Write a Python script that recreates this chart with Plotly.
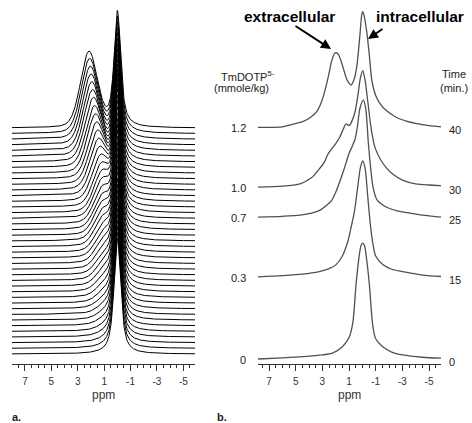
import numpy as np
import plotly.graph_objects as go

W, H = 472, 423
AXIS_PX = 364  # pixel row of the ppm axes

# ---------------- data ----------------
# panel a: one spectrum per minute, 0..40 min
minutes_a = list(range(0, 41))
intra_height_a = 20.5
intra_ppm_a = 0.0
extra_height_a = [0.0, 0.1, 0.2, 0.35, 0.5, 0.7, 0.9, 1.1, 1.3, 1.5, 1.8,
                  2.1, 2.4, 2.7, 3.0, 3.3, 3.6, 3.9, 4.2, 4.5, 4.8,
                  5.1, 5.4, 5.8, 6.2, 6.6, 7.0, 7.5, 8.0, 8.5, 9.0,
                  9.5, 10.0, 10.5, 11.0, 11.4, 11.8, 12.2, 12.6, 13.0, 13.3]
extra_ppm_a = [0.85, 0.86, 0.87, 0.88, 0.89, 0.90, 0.91, 0.92, 0.93, 0.94, 0.95,
               0.96, 0.97, 0.98, 0.99, 1.00, 1.02, 1.04, 1.06, 1.08, 1.10,
               1.11, 1.12, 1.13, 1.14, 1.15, 1.20, 1.27, 1.35, 1.43, 1.50,
               1.58, 1.66, 1.74, 1.81, 1.88, 1.94, 2.00, 2.05, 2.10, 2.15]

# panel b: selected spectra
conc_b = ["0", "0.3", "0.7", "1.0", "1.2"]
time_b = ["0", "15", "25", "30", "40"]
stack_b = [0, 14.2, 24.5, 29.7, 40]

ppm_b0 = [7.83, 6.0, 4.5, 3.0, 2.2, 1.5, 1.0, 0.72, 0.47, 0.25, 0.1, -0.03, -0.16, -0.3,
          -0.52, -0.78, -1.0, -1.53, -2.2, -3.03, -4.5, -5.9]
int_b0 = [0.0, 0.2, 0.4, 0.7, 1.05, 2.1, 3.7, 6.2, 13.0, 17.6, 19.6, 20.0, 19.6, 17.6,
          13.0, 5.8, 3.5, 2.1, 1.2, 0.7, 0.3, 0.15]

ppm_b15 = [7.83, 6.0, 4.5, 3.23, 2.5, 1.97, 1.5, 1.1, 0.85, 0.6, 0.35, 0.15, -0.03, -0.2,
           -0.4, -0.6, -0.8, -1.0, -1.53, -2.2, -3.03, -4.5, -5.9]
int_b15 = [0.0, 0.2, 0.45, 0.9, 1.4, 2.1, 3.6, 6.0, 8.5, 11.2, 15.5, 18.8, 20.0, 18.8,
           14.0, 9.0, 5.6, 3.6, 2.1, 1.3, 0.9, 0.3, 0.05]

ppm_b25 = [7.83, 6.0, 4.67, 3.8, 3.17, 2.7, 2.3, 2.0, 1.67, 1.3, 1.0, 0.75, 0.55, 0.38,
           0.18, -0.07, -0.25, -0.45, -0.62, -0.8, -1.1, -1.83, -2.6, -3.58, -4.7, -5.9]
int_b25 = [0.0, 0.15, 0.35, 0.7, 1.2, 2.0, 2.9, 4.3, 6.3, 8.8, 11.0, 12.3, 13.5, 15.5,
           18.8, 20.2, 18.8, 12.8, 8.5, 5.2, 3.0, 1.7, 1.1, 0.7, 0.3, 0.0]

ppm_b30 = [7.83, 6.0, 4.67, 4.17, 3.72, 3.17, 2.85, 2.6, 2.3, 2.0, 1.7, 1.45, 1.22, 1.0,
           0.8, 0.55, 0.35, 0.15, -0.03, -0.2, -0.4, -0.68, -0.95, -1.35, -1.8, -2.3,
           -3.0, -4.0, -5.0, -5.9]
int_b30 = [0.0, 0.15, 0.55, 1.1, 1.8, 3.3, 4.3, 5.6, 6.6, 7.5, 8.6, 9.9, 10.9, 10.6,
           11.3, 13.0, 15.6, 18.8, 20.1, 18.5, 14.9, 9.8, 6.8, 4.8, 3.3, 2.2,
           1.2, 0.55, 0.35, 0.25]

ppm_b40 = [7.83, 6.0, 5.48, 4.47, 3.9, 3.4, 3.1, 2.85, 2.55, 2.3, 2.1, 1.97, 1.8, 1.62,
           1.43, 1.2, 1.05, 0.85, 0.62, 0.42, 0.17, 0.05, -0.03, -0.12, -0.33, -0.5,
           -0.72, -1.0, -1.3, -1.8, -2.5, -3.3, -4.0, -5.0, -5.9]
int_b40 = [0.0, 0.1, 0.4, 1.0, 1.7, 2.8, 4.2, 6.0, 8.8, 11.5, 12.7, 12.9, 12.6, 11.6,
           10.2, 8.5, 7.8, 7.3, 8.3, 10.5, 16.3, 19.4, 20.0, 19.4, 16.5, 13.0,
           8.0, 5.5, 4.2, 2.9, 1.8, 1.1, 0.7, 0.3, 0.1]

ppm_b = [ppm_b0, ppm_b15, ppm_b25, ppm_b30, ppm_b40]
int_b = [int_b0, int_b15, int_b25, int_b30, int_b40]

tick_vals = [7, 5, 3, 1, -1, -3, -5]
tick_text = ["7", "5", "3", "1", "-1", "-3", "-5"]

# ---------------- geometry ----------------
XR_A = [7.98, -5.88]
XR_B = [7.83, -5.9]
DOM_A = [12 / W, 195 / W]
DOM_B = [258 / W, 441 / W]
# vertical scales (px per intensity unit) and baseline of the first spectrum
SA, BASE_A = 5.65, 354
SB, BASE_B = 5.79, 359
YR_A = [-(AXIS_PX - BASE_A) / SA, BASE_A / SA]
YR_B = [-(AXIS_PX - BASE_B) / SB, BASE_B / SB]


def px(x):
    return x / W


def py(y):
    return (AXIS_PX - y) / AXIS_PX


def pvoigt(x, c, hw, eta):
    r2 = ((x - c) / hw) ** 2
    return eta / (1 + r2) + (1 - eta) * np.exp(-np.log(2) * r2)


fig = go.Figure()

grid_a = np.linspace(XR_A[0], XR_A[1], 500)
for t, eh, ep in zip(minutes_a, extra_height_a, extra_ppm_a):
    y = (t + intra_height_a * pvoigt(grid_a, intra_ppm_a, 0.3, 0.8)
         + eh * pvoigt(grid_a, ep, 0.75, 0.2))
    fig.add_trace(go.Scatter(x=grid_a, y=y, mode="lines", xaxis="x", yaxis="y",
                             line=dict(color="#000000", width=1.0),
                             hoverinfo="skip", showlegend=False))

for xs, ys, off in zip(ppm_b, int_b, stack_b):
    fig.add_trace(go.Scatter(x=xs, y=[v + off for v in ys], mode="lines",
                             xaxis="x2", yaxis="y2",
                             line=dict(color="#505050", width=1.3, shape="spline",
                                       smoothing=0.8),
                             hoverinfo="skip", showlegend=False))

FONT = "Liberation Sans, Arial, sans-serif"
TXT = "#222222"


def xaxis_cfg(dom, rng, anchor):
    return dict(domain=dom, range=rng, anchor=anchor, showline=True, linecolor="#333",
                linewidth=1, showgrid=False, zeroline=False,
                tickmode="array", tickvals=tick_vals, ticktext=tick_text,
                ticks="outside", ticklen=6, tickwidth=1, tickcolor="#333",
                tickfont=dict(family=FONT, size=10, color="#333"),
                ticklabelstandoff=2,
                minor=dict(tickmode="linear", tick0=0, dtick=0.5, ticks="outside",
                           ticklen=3, tickwidth=1, tickcolor="#333"))


def ruler_cfg(base, rng, anchor):
    # short upward ticks so the ruler marks cross the axis line
    return dict(overlaying=base, range=rng, anchor=anchor, side="bottom",
                showline=False, showgrid=False, zeroline=False, showticklabels=False,
                tickmode="linear", tick0=0, dtick=0.5, ticks="inside", ticklen=2,
                tickwidth=1, tickcolor="#333")


def yaxis_cfg(rng, anchor):
    return dict(domain=[0, 1], range=rng, anchor=anchor, visible=False,
                showgrid=False, zeroline=False)


annotations = []


def txt(x, y, s, size=11, bold=False, xanchor="center", color=TXT, yref="paper",
        yshift=0):
    annotations.append(dict(
        x=px(x), y=py(y) if yref == "paper" else y, xref="paper", yref=yref,
        text=f"<b>{s}</b>" if bold else s, showarrow=False,
        xanchor=xanchor, yanchor="middle", yshift=yshift,
        font=dict(family=FONT, size=size, color=color)))


txt(289, 17, "extracellular", size=15.5, bold=True, color="#000")
txt(420, 17, "intracellular", size=15.5, bold=True, color="#000")
for (hx, hy, tx, ty) in [(331, 49, 294, 25), (368, 39, 384, 28)]:
    annotations.append(dict(x=px(hx), y=py(hy), xref="paper", yref="paper", text="",
                            showarrow=True, ax=tx - hx, ay=ty - hy, arrowhead=2,
                            arrowsize=1, arrowwidth=2, arrowcolor="#000", standoff=0))

txt(248, 76, "TmDOTP<sup>5-</sup>", size=11)
txt(242, 88, "(mmole/kg)", size=11)
txt(454, 74, "Time", size=11)
txt(454, 88, "(min.)", size=11)

for lab, off in zip(conc_b, stack_b):
    txt(248, off, lab, size=11, xanchor="right", yref="y2", yshift=-1)
for lab, off in zip(time_b, stack_b):
    txt(447, off, lab, size=11, xanchor="left", yref="y2", yshift=-3)

txt(103, 395, "ppm", size=12, color="#333")
txt(349, 395, "ppm", size=12, color="#333")
txt(16, 417, "a.", size=11, bold=True)
txt(222, 417, "b.", size=11, bold=True)

fig.update_layout(
    width=W, height=H, margin=dict(l=0, r=0, t=0, b=H - AXIS_PX, pad=0),
    paper_bgcolor="white", plot_bgcolor="white", showlegend=False,
    xaxis=xaxis_cfg(DOM_A, XR_A, "y"),
    xaxis2=xaxis_cfg(DOM_B, XR_B, "y2"),
    xaxis3=ruler_cfg("x", XR_A, "y"),
    xaxis4=ruler_cfg("x2", XR_B, "y2"),
    yaxis=yaxis_cfg(YR_A, "x"),
    yaxis2=yaxis_cfg(YR_B, "x2"),
    annotations=annotations,
)

fig.write_html(
    "out.html",
    config={"displayModeBar": False},
    post_script="document.body.style.margin='0';document.body.style.overflow='hidden';",
)
